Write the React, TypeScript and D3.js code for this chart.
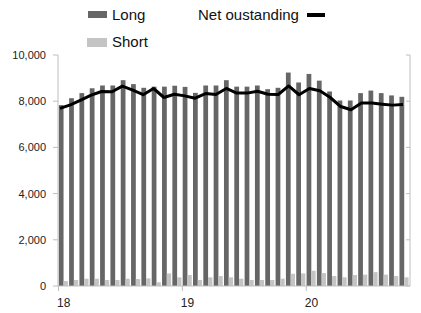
import * as d3 from "d3";
import React from "react";

// monthly, Jan 2018 - Oct 2020
const months = [
  "2018-01", "2018-02", "2018-03", "2018-04", "2018-05", "2018-06",
  "2018-07", "2018-08", "2018-09", "2018-10", "2018-11", "2018-12",
  "2019-01", "2019-02", "2019-03", "2019-04", "2019-05", "2019-06",
  "2019-07", "2019-08", "2019-09", "2019-10", "2019-11", "2019-12",
  "2020-01", "2020-02", "2020-03", "2020-04", "2020-05", "2020-06",
  "2020-07", "2020-08", "2020-09", "2020-10",
];

const longValues = [
  7830, 8130, 8350, 8560, 8680, 8680, 8910, 8740, 8580, 8630, 8630, 8670,
  8620, 8360, 8680, 8680, 8910, 8630, 8630, 8680, 8520, 8580, 9240, 8810,
  9180, 8890, 8420, 8030, 8030, 8350, 8460, 8350, 8250, 8190,
];

const shortValues = [
  215, 260, 315, 315, 260, 260, 315, 300, 330, 160, 545, 375,
  475, 260, 375, 430, 375, 315, 260, 260, 260, 315, 530, 545,
  660, 560, 430, 375, 475, 490, 600, 490, 430, 375,
];

const netValues = [
  7690, 7840, 8050, 8260, 8420, 8410, 8650, 8480, 8280, 8550, 8160, 8300,
  8230, 8130, 8330, 8290, 8550, 8350, 8350, 8430, 8300, 8290, 8660, 8280,
  8550, 8450, 8160, 7770, 7630, 7920, 7920, 7870, 7830, 7860,
];

const yTicks = [0, 2000, 4000, 6000, 8000, 10000];
const yearTicks = ["2018-01", "2019-01", "2020-01"];
const yearLabels = ["18", "19", "20"];

const W = 421, H = 313;
const left = 58, right = 410, top = 55, bottom = 286;
const font = "'Liberation Sans', Arial, sans-serif";
const axisColor = "#bfbfbf";
const darkGray = "#666666";
const lightGray = "#c4c4c4";

export default function App() {
  const x = d3.scaleBand<string>().domain(months).range([58.5, 409.5]);
  const xLine = d3.scalePoint<string>().domain(months).range([60, 403]);
  const y = d3.scaleLinear().domain([0, 10000]).range([bottom, top]);
  const bw = x.bandwidth();
  const fmt = d3.format(",");

  const line = d3.line<number>()
    .x((_, i) => xLine(months[i]) as number)
    .y(d => y(d))
    .curve(d3.curveLinear);

  return (
    <svg width={W} height={H} style={{ position: "absolute", left: 0, top: 0, background: "#fff" }}>
      {/* legend */}
      <g fontFamily={font} fontSize={15} fill="#111">
        <rect x={88} y={11} width={19} height={7} fill={darkGray} />
        <text x={112} y={20}>Long</text>
        <rect x={87} y={38} width={20} height={9} fill={lightGray} />
        <text x={112} y={47}>Short</text>
        <text x={198} y={20}>Net oustanding</text>
        <line x1={307} x2={325} y1={15} y2={15} stroke="#000" strokeWidth={4} />
      </g>

      {/* bars */}
      {longValues.map((v, i) => (
        <rect key={"l" + i} x={(x(months[i]) as number) + 0.3} y={y(v)}
          width={bw * 0.46} height={bottom - y(v)} fill={darkGray} />
      ))}
      {shortValues.map((v, i) => (
        <rect key={"s" + i} x={(x(months[i]) as number) + 0.3 + bw * 0.46} y={y(v)}
          width={bw * 0.42} height={bottom - y(v)} fill={lightGray} />
      ))}

      {/* net outstanding */}
      <path d={line(netValues) || ""} fill="none" stroke="#000" strokeWidth={3}
        strokeLinejoin="round" />

      {/* left axis */}
      <line x1={left} x2={left} y1={top} y2={bottom} stroke={axisColor} />
      {yTicks.map(t => (
        <g key={t}>
          <line x1={left - 5} x2={left} y1={y(t)} y2={y(t)} stroke={axisColor} />
          <text x={46} y={y(t) + 4} textAnchor="end" fontFamily={font} fontSize={11} fill="#222">
            {fmt(t)}
          </text>
        </g>
      ))}

      {/* right axis */}
      <line x1={right} x2={right} y1={top} y2={bottom} stroke={axisColor} />
      {yTicks.map(t => (
        <line key={"r" + t} x1={right - 4} x2={right} y1={y(t)} y2={y(t)} stroke={axisColor} />
      ))}

      {/* bottom axis */}
      <line x1={left} x2={right} y1={bottom} y2={bottom} stroke={axisColor} />
      {yearTicks.map((m, i) => (
        <g key={m}>
          <line x1={x(m) as number} x2={x(m) as number} y1={bottom} y2={bottom + 5} stroke={axisColor} />
          <text x={(x(m) as number) + bw / 2} y={307} textAnchor="middle"
            fontFamily={font} fontSize={12} fill="#222">{yearLabels[i]}</text>
        </g>
      ))}
    </svg>
  );
}
